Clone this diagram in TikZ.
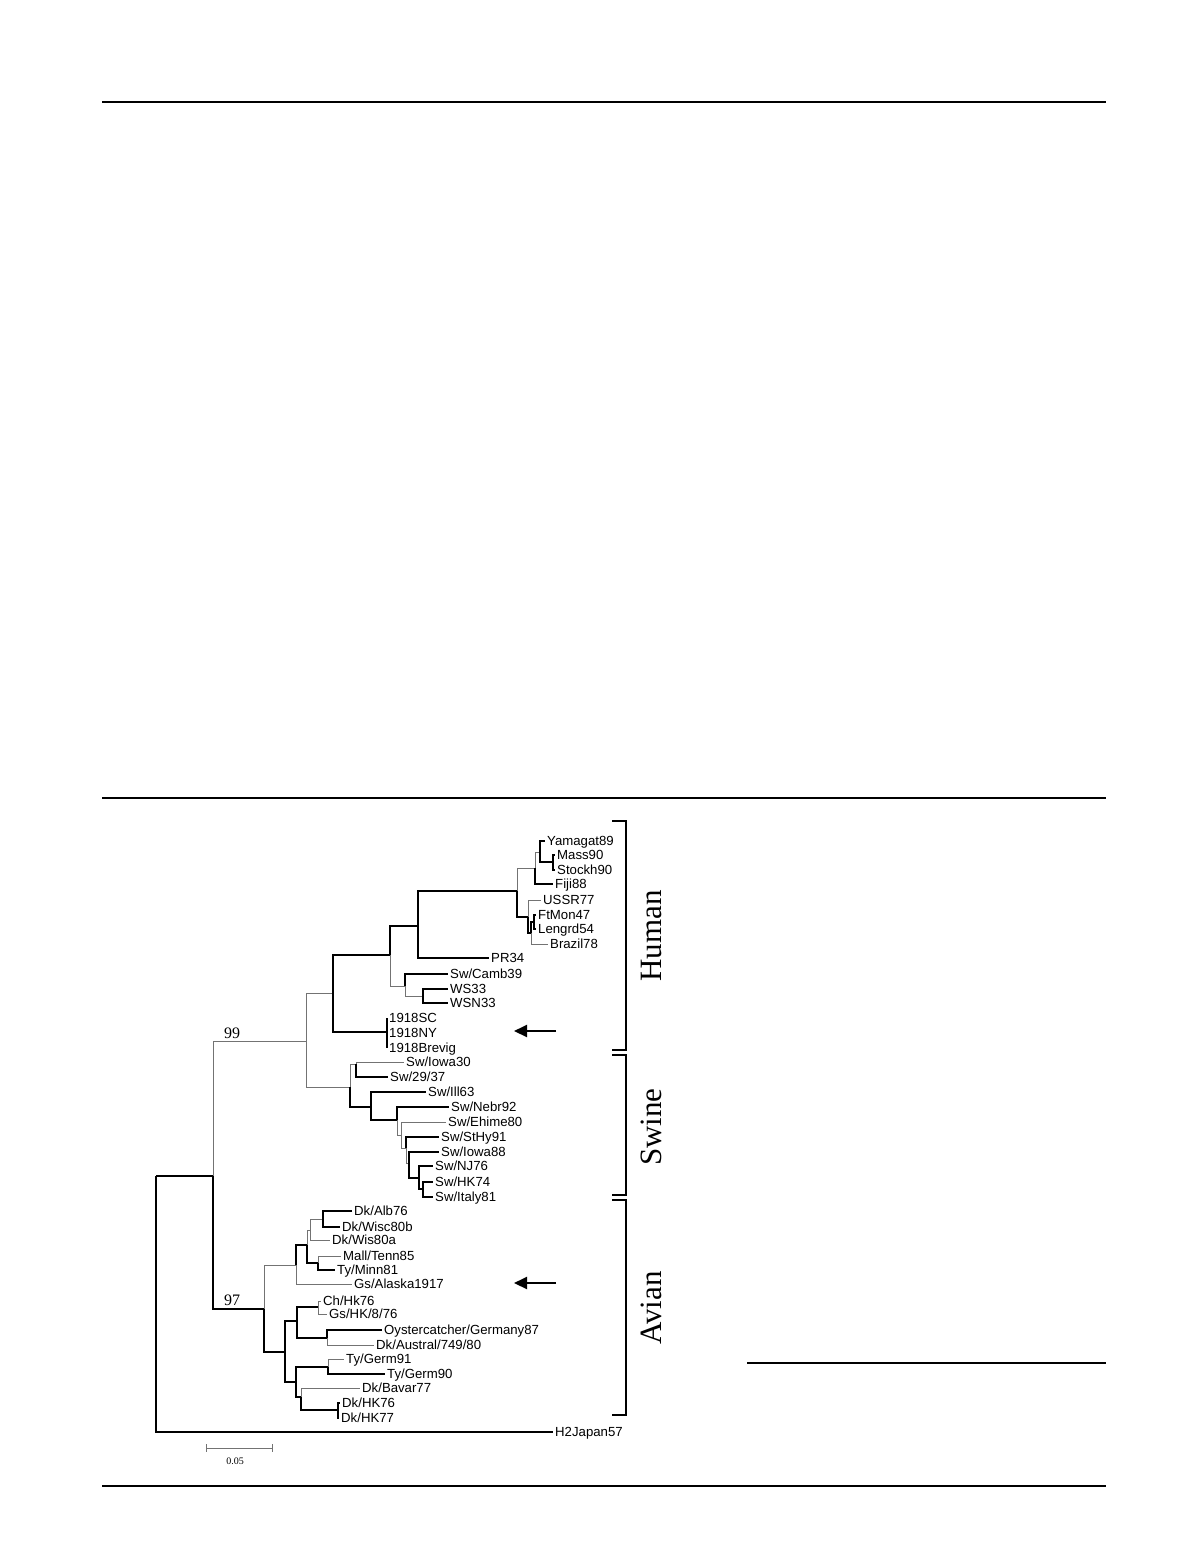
\documentclass[tikz,border=0pt]{standalone}
\usepackage{fontspec}
\setmainfont{Liberation Serif}
\setsansfont{Liberation Sans}
\usetikzlibrary{arrows.meta}
\tikzset{
  thk/.style={line width=1.2pt, black},
  thn/.style={line width=0.8pt, black!55},
  leaf/.style={anchor=west, inner sep=2pt, text height=9.5pt, text depth=0.5pt, font=\sffamily\fontsize{13.2}{13.2}\selectfont},
  clade/.style={rotate=90, inner sep=0pt, font=\rmfamily\fontsize{31}{31}\selectfont},
  boot/.style={inner sep=0pt, font=\rmfamily\fontsize{16}{16}\selectfont},
  brk/.style={line width=2.5pt, black},
  rule/.style={line width=1.3pt, black},
  arr/.style={line width=2pt, -{Triangle[length=13pt,width=12pt]}}
}
\begin{document}
\begin{tikzpicture}[x=1pt,y=-1pt]
\useasboundingbox (0,0) rectangle (1190,1560);
% page rules
\draw[rule] (102,102) -- (1106,102);
\draw[rule] (102,798) -- (1106,798);
\draw[rule] (102,1486) -- (1106,1486);
\draw[rule] (747,1363) -- (1106,1363);
% internal nodes
\coordinate (R) at (156,1176);
\coordinate (X) at (213,1176);
\coordinate (N99) at (306,1041);
\coordinate (N97) at (264,1309);
\coordinate (NH) at (333,993);
\coordinate (NS) at (350,1087);
\coordinate (NH2) at (390,955);
\coordinate (N18) at (387,1032);
\coordinate (NH3) at (418,926);
\coordinate (NSW) at (405,986);
\coordinate (NH4) at (517,891);
\coordinate (NYF) at (535,868);
\coordinate (NYM) at (540,852);
\coordinate (NMS) at (553,862);
\coordinate (NUS) at (528,917);
\coordinate (NFB) at (531,933);
\coordinate (NFL) at (534,922);
\coordinate (NWS) at (423,996);
\coordinate (NSI) at (356,1064);
\coordinate (NSL) at (371,1107);
\coordinate (NS2) at (397,1120);
\coordinate (NS3) at (401,1135);
\coordinate (NS4) at (406,1148);
\coordinate (NS5) at (409,1163);
\coordinate (NS6) at (419,1178);
\coordinate (NS7) at (423,1189);
\coordinate (A1) at (296,1265);
\coordinate (A2) at (285,1352);
\coordinate (A3) at (307,1245);
\coordinate (A4) at (310,1230);
\coordinate (A5) at (318,1263);
\coordinate (A6) at (323,1219);
\coordinate (A7) at (297,1321);
\coordinate (A8) at (296,1382);
\coordinate (A9) at (318,1307);
\coordinate (A10) at (327,1338);
\coordinate (A11) at (328,1367);
\coordinate (A12) at (301,1397);
\coordinate (A13) at (338,1410);
% leaves - human
\node[leaf] (yam) at (545,841) {Yamagat89};
\node[leaf] (mass) at (555,855) {Mass90};
\node[leaf] (stock) at (555,870) {Stockh90};
\node[leaf] (fiji) at (553,884) {Fiji88};
\node[leaf] (ussr) at (541,900) {USSR77};
\node[leaf] (ftmon) at (536,915) {FtMon47};
\node[leaf] (leng) at (536,929) {Lengrd54};
\node[leaf] (braz) at (548,944) {Brazil78};
\node[leaf] (pr) at (489,958) {PR34};
\node[leaf] (camb) at (448,974) {Sw/Camb39};
\node[leaf] (ws) at (448,989) {WS33};
\node[leaf] (wsn) at (448,1003) {WSN33};
\node[leaf] (sc) at (387,1018) {1918SC};
\node[leaf] (ny) at (387,1033) {1918NY};
\node[leaf] (brev) at (387,1048) {1918Brevig};
% leaves - swine
\node[leaf] (iowa30) at (404,1062) {Sw/Iowa30};
\node[leaf] (s2937) at (388,1077) {Sw/29/37};
\node[leaf] (ill) at (426,1092) {Sw/Ill63};
\node[leaf] (nebr) at (449,1107) {Sw/Nebr92};
\node[leaf] (ehime) at (446,1122) {Sw/Ehime80};
\node[leaf] (sthy) at (439,1137) {Sw/StHy91};
\node[leaf] (iowa88) at (439,1152) {Sw/Iowa88};
\node[leaf] (nj) at (433,1166) {Sw/NJ76};
\node[leaf] (hk74) at (433,1182) {Sw/HK74};
\node[leaf] (italy) at (433,1197) {Sw/Italy81};
% leaves - avian
\node[leaf] (alb) at (352,1211) {Dk/Alb76};
\node[leaf] (wisc) at (340,1227) {Dk/Wisc80b};
\node[leaf] (wis) at (330,1240) {Dk/Wis80a};
\node[leaf] (mall) at (341,1256) {Mall/Tenn85};
\node[leaf] (minn) at (335,1270) {Ty/Minn81};
\node[leaf] (alaska) at (352,1284) {Gs/Alaska1917};
\node[leaf] (ch) at (321,1301) {Ch/Hk76};
\node[leaf] (gs) at (327,1314) {Gs/HK/8/76};
\node[leaf] (oyst) at (382,1330) {Oystercatcher/Germany87};
\node[leaf] (aus) at (374,1345) {Dk/Austral/749/80};
\node[leaf] (germ91) at (344,1359) {Ty/Germ91};
\node[leaf] (germ90) at (385,1374) {Ty/Germ90};
\node[leaf] (bav) at (360,1388) {Dk/Bavar77};
\node[leaf] (hk76) at (340,1403) {Dk/HK76};
\node[leaf] (hk77) at (339,1418) {Dk/HK77};
\node[leaf] (h2) at (553,1432) {H2Japan57};
% branches
\draw[thk] (R) |- (X);
\draw[thk] (R) |- (h2.west);
\draw[thn] (X) |- (N99);
\draw[thk] (X) |- (N97);
\draw[thn] (N99) |- (NH);
\draw[thn] (N99) |- (NS);
\draw[thk] (NH) |- (NH2);
\draw[thk] (NH) |- (N18);
\draw[thk] (NH2) |- (NH3);
\draw[thn] (NH2) |- (NSW);
\draw[thk] (NH3) |- (NH4);
\draw[thk] (NH3) |- (pr.west);
\draw[thn] (NH4) |- (NYF);
\draw[thk] (NH4) |- (NUS);
\draw[thn] (NYF) |- (NYM);
\draw[thk] (NYF) |- (fiji.west);
\draw[thk] (NYM) |- (yam.west);
\draw[thk] (NYM) |- (NMS);
\draw[thk] (NMS) |- (mass.west);
\draw[thk] (NMS) |- (stock.west);
\draw[thn] (NUS) |- (ussr.west);
\draw[thk] (NUS) |- (NFB);
\draw[thk] (NFB) |- (NFL);
\draw[thn] (NFB) |- (braz.west);
\draw[thk] (NFL) |- (ftmon.west);
\draw[thk] (NFL) |- (leng.west);
\draw[thk] (NSW) |- (camb.west);
\draw[thn] (NSW) |- (NWS);
\draw[thk] (NWS) |- (ws.west);
\draw[thk] (NWS) |- (wsn.west);
\draw[thk] (N18) |- (sc.west);
\draw[thk] (N18) |- (ny.west);
\draw[thk] (N18) |- (brev.west);
\draw[thn] (NS) |- (NSI);
\draw[thk] (NS) |- (NSL);
\draw[thn] (NSI) |- (iowa30.west);
\draw[thk] (NSI) |- (s2937.west);
\draw[thk] (NSL) |- (ill.west);
\draw[thk] (NSL) |- (NS2);
\draw[thk] (NS2) |- (nebr.west);
\draw[thn] (NS2) |- (NS3);
\draw[thn] (NS3) |- (ehime.west);
\draw[thn] (NS3) |- (NS4);
\draw[thk] (NS4) |- (sthy.west);
\draw[thn] (NS4) |- (NS5);
\draw[thk] (NS5) |- (iowa88.west);
\draw[thk] (NS5) |- (NS6);
\draw[thk] (NS6) |- (nj.west);
\draw[thk] (NS6) |- (NS7);
\draw[thk] (NS7) |- (hk74.west);
\draw[thk] (NS7) |- (italy.west);
\draw[thn] (N97) |- (A1);
\draw[thk] (N97) |- (A2);
\draw[thk] (A1) |- (A3);
\draw[thn] (A1) |- (alaska.west);
\draw[thn] (A3) |- (A4);
\draw[thk] (A3) |- (A5);
\draw[thn] (A4) |- (A6);
\draw[thn] (A4) |- (wis.west);
\draw[thk] (A6) |- (alb.west);
\draw[thk] (A6) |- (wisc.west);
\draw[thn] (A5) |- (mall.west);
\draw[thk] (A5) |- (minn.west);
\draw[thk] (A2) |- (A7);
\draw[thk] (A2) |- (A8);
\draw[thk] (A7) |- (A9);
\draw[thk] (A7) |- (A10);
\draw[thn] (A9) |- (ch.west);
\draw[thn] (A9) |- (gs.west);
\draw[thk] (A10) |- (oyst.west);
\draw[thn] (A10) |- (aus.west);
\draw[thk] (A8) |- (A11);
\draw[thk] (A8) |- (A12);
\draw[thn] (A11) |- (germ91.west);
\draw[thk] (A11) |- (germ90.west);
\draw[thn] (A12) |- (bav.west);
\draw[thk] (A12) |- (A13);
\draw[thk] (A13) |- (hk76.west);
\draw[thk] (A13) |- (hk77.west);
% bootstrap values
\node[boot] (b99) at (232,1033) {99};
\node[boot] (b97) at (232,1300) {97};
% arrows
\coordinate (ha1) at (556,1031);
\coordinate (ha2) at (514,1031);
\draw[arr] (ha1) -- (ha2);
\coordinate (aa1) at (556,1283);
\coordinate (aa2) at (514,1283);
\draw[arr] (aa1) -- (aa2);
% brackets
\draw[brk] (612,821) -- (626,821) -- (626,1050) -- (612,1050);
\draw[brk] (612,1055) -- (626,1055) -- (626,1195) -- (612,1195);
\draw[brk] (612,1200) -- (626,1200) -- (626,1415) -- (612,1415);
\node[clade] (human) at (651,936) {Human};
\node[clade] (swine) at (651,1127) {Swine};
\node[clade] (avian) at (651,1308) {Avian};
% scale bar
\coordinate (sb1) at (206,1448);
\coordinate (sb2) at (272,1448);
\draw[thn] (sb1) -- (sb2);
\draw[thn] ([yshift=4pt]sb1) -- ([yshift=-4pt]sb1);
\draw[thn] ([yshift=4pt]sb2) -- ([yshift=-4pt]sb2);
\node[inner sep=0pt, font=\rmfamily\fontsize{10}{10}\selectfont] (sbl) at (235,1461) {0.05};
\end{tikzpicture}
\end{document}
